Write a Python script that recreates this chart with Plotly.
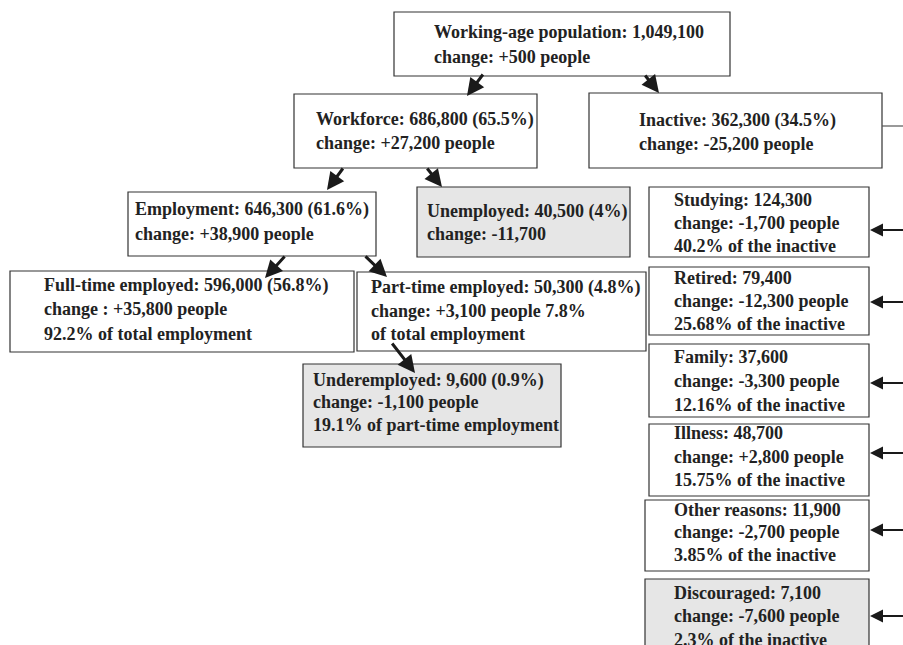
import plotly.graph_objects as go

# ---------------- data (text of every node) ----------------
node_ids = ["wa", "wf", "ina", "emp", "unemp", "ft", "pt", "under",
            "stud", "ret", "fam", "ill", "oth", "disc"]
node_titles = [
    "Working-age population: 1,049,100",
    "Workforce: 686,800 (65.5%)",
    "Inactive: 362,300 (34.5%)",
    "Employment: 646,300 (61.6%)",
    "Unemployed: 40,500 (4%)",
    "Full-time employed: 596,000 (56.8%)",
    "Part-time employed: 50,300 (4.8%)",
    "Underemployed: 9,600 (0.9%)",
    "Studying: 124,300",
    "Retired: 79,400",
    "Family: 37,600",
    "Illness: 48,700",
    "Other reasons: 11,900",
    "Discouraged: 7,100",
]
node_changes = [
    "change: +500 people",
    "change: +27,200 people",
    "change: -25,200 people",
    "change: +38,900 people",
    "change: -11,700",
    "change : +35,800 people",
    "change: +3,100 people 7.8%",
    "change: -1,100 people",
    "change: -1,700 people",
    "change: -12,300 people",
    "change: -3,300 people",
    "change: +2,800 people",
    "change: -2,700 people",
    "change: -7,600 people",
]
node_notes = [
    "", "", "", "", "",
    "92.2% of total employment",
    "of total employment",
    "19.1% of part-time employment",
    "40.2% of the inactive",
    "25.68% of the inactive",
    "12.16% of the inactive",
    "15.75% of the inactive",
    "3.85% of the inactive",
    "2.3% of the inactive",
]
highlighted = ["unemp", "under", "disc"]

# edges: (parent, child)
tree_edges = [("wa", "wf"), ("wa", "ina"), ("wf", "emp"), ("wf", "unemp"),
              ("emp", "ft"), ("emp", "pt"), ("pt", "under")]
inactive_children = ["stud", "ret", "fam", "ill", "oth", "disc"]

# ---------------- layout (pixel geometry, page coordinates) ----------------
W, H = 903, 645
box = {  # x0, y0, x1, y1
    "wa": (394, 12, 730, 76), "wf": (294, 94, 537, 168),
    "ina": (589, 93, 882, 168), "emp": (128, 192, 376, 256),
    "unemp": (417, 187, 630, 257), "ft": (10, 271, 354, 352),
    "pt": (357, 272, 646, 351), "under": (303, 364, 561, 447),
    "stud": (649, 187, 869, 257), "ret": (649, 267, 869, 335),
    "fam": (649, 344, 869, 417), "ill": (649, 424, 869, 496),
    "oth": (645, 500, 869, 571), "disc": (645, 579, 869, 665),
}
text_pos = {  # text left x, centres of lines
    "wa": (432, [32, 57]), "wf": (314, [119, 143]),
    "ina": (637, [120, 144]), "emp": (133, [209, 234]),
    "unemp": (425, [211, 234]), "ft": (42, [285, 309, 334]),
    "pt": (369, [287, 311, 334]), "under": (311, [380, 402, 425]),
    "stud": (672, [200, 223, 246]), "ret": (672, [278, 301, 324]),
    "fam": (672, [357, 381, 405]), "ill": (672, [433, 457, 480]),
    "oth": (672, [510, 532, 555]), "disc": (672, [593, 616, 640]),
}
edge_geom = {  # tail (x, y) -> head (x, y)
    ("wa", "wf"): ((484, 73), (467, 96)),
    ("wa", "ina"): ((644, 74), (659, 93)),
    ("wf", "emp"): ((344, 167), (327, 190)),
    ("wf", "unemp"): ((426, 167), (442, 187)),
    ("emp", "ft"): ((286, 255), (265, 278)),
    ("emp", "pt"): ((364, 255), (387, 277)),
    ("pt", "under"): ((391, 342), (415, 373)),
}
side_arrow_y = {"stud": 230, "ret": 302, "fam": 383, "ill": 453,
                "oth": 530, "disc": 616}

FONT = dict(family="Liberation Serif, Times New Roman, serif",
            size=18, color="#222222")

fig = go.Figure()
fig.add_trace(go.Scatter(x=[0, W], y=[0, H], mode="markers",
                         marker=dict(opacity=0), hoverinfo="skip",
                         showlegend=False))

shapes = []
annotations = []
for i, nid in enumerate(node_ids):
    x0, y0, x1, y1 = box[nid]
    fill = "#e6e6e6" if nid in highlighted else "white"
    shapes.append(dict(type="rect", xref="x", yref="y", x0=x0, y0=y0,
                       x1=x1, y1=y1, line=dict(color="#333333", width=1.2),
                       fillcolor=fill, layer="below"))
    lines = [node_titles[i], node_changes[i]]
    if node_notes[i]:
        lines.append(node_notes[i])
    tx, tys = text_pos[nid]
    for line, ty in zip(lines, tys):
        annotations.append(dict(x=tx, y=ty, xref="x", yref="y",
                                text="<b>" + line + "</b>",
                                showarrow=False, xanchor="left",
                                yanchor="middle", font=FONT))

for e in tree_edges:
    (tx0, ty0), (hx, hy) = edge_geom[e]
    annotations.append(dict(x=hx, y=hy, ax=tx0, ay=ty0, xref="x", yref="y",
                            axref="x", ayref="y", text="", showarrow=True,
                            arrowhead=2, arrowsize=1.15, arrowwidth=3,
                            arrowcolor="#1a1a1a", standoff=0))

# line leaving the Inactive box toward the right-hand column
shapes.append(dict(type="line", xref="x", yref="y", x0=882, y0=126,
                   x1=W + 5, y1=126, line=dict(color="#555555", width=1.2)))
for nid in inactive_children:
    y = side_arrow_y[nid]
    annotations.append(dict(x=box[nid][2] + 1, y=y, ax=W + 5, ay=y,
                            xref="x", yref="y", axref="x", ayref="y",
                            text="", showarrow=True, arrowhead=2,
                            arrowsize=1.3, arrowwidth=2,
                            arrowcolor="#1a1a1a", standoff=0))

fig.update_layout(
    width=W, height=H, margin=dict(l=0, r=0, t=0, b=0),
    paper_bgcolor="white", plot_bgcolor="white",
    xaxis=dict(range=[0, W], visible=False, fixedrange=True),
    yaxis=dict(range=[H, 0], visible=False, fixedrange=True),
    shapes=shapes, annotations=annotations, showlegend=False,
)
fig.write_html(
    "out.html",
    config={"displayModeBar": False, "staticPlot": True},
    post_script="document.body.style.margin='0';"
                "document.body.style.overflow='hidden';",
)
